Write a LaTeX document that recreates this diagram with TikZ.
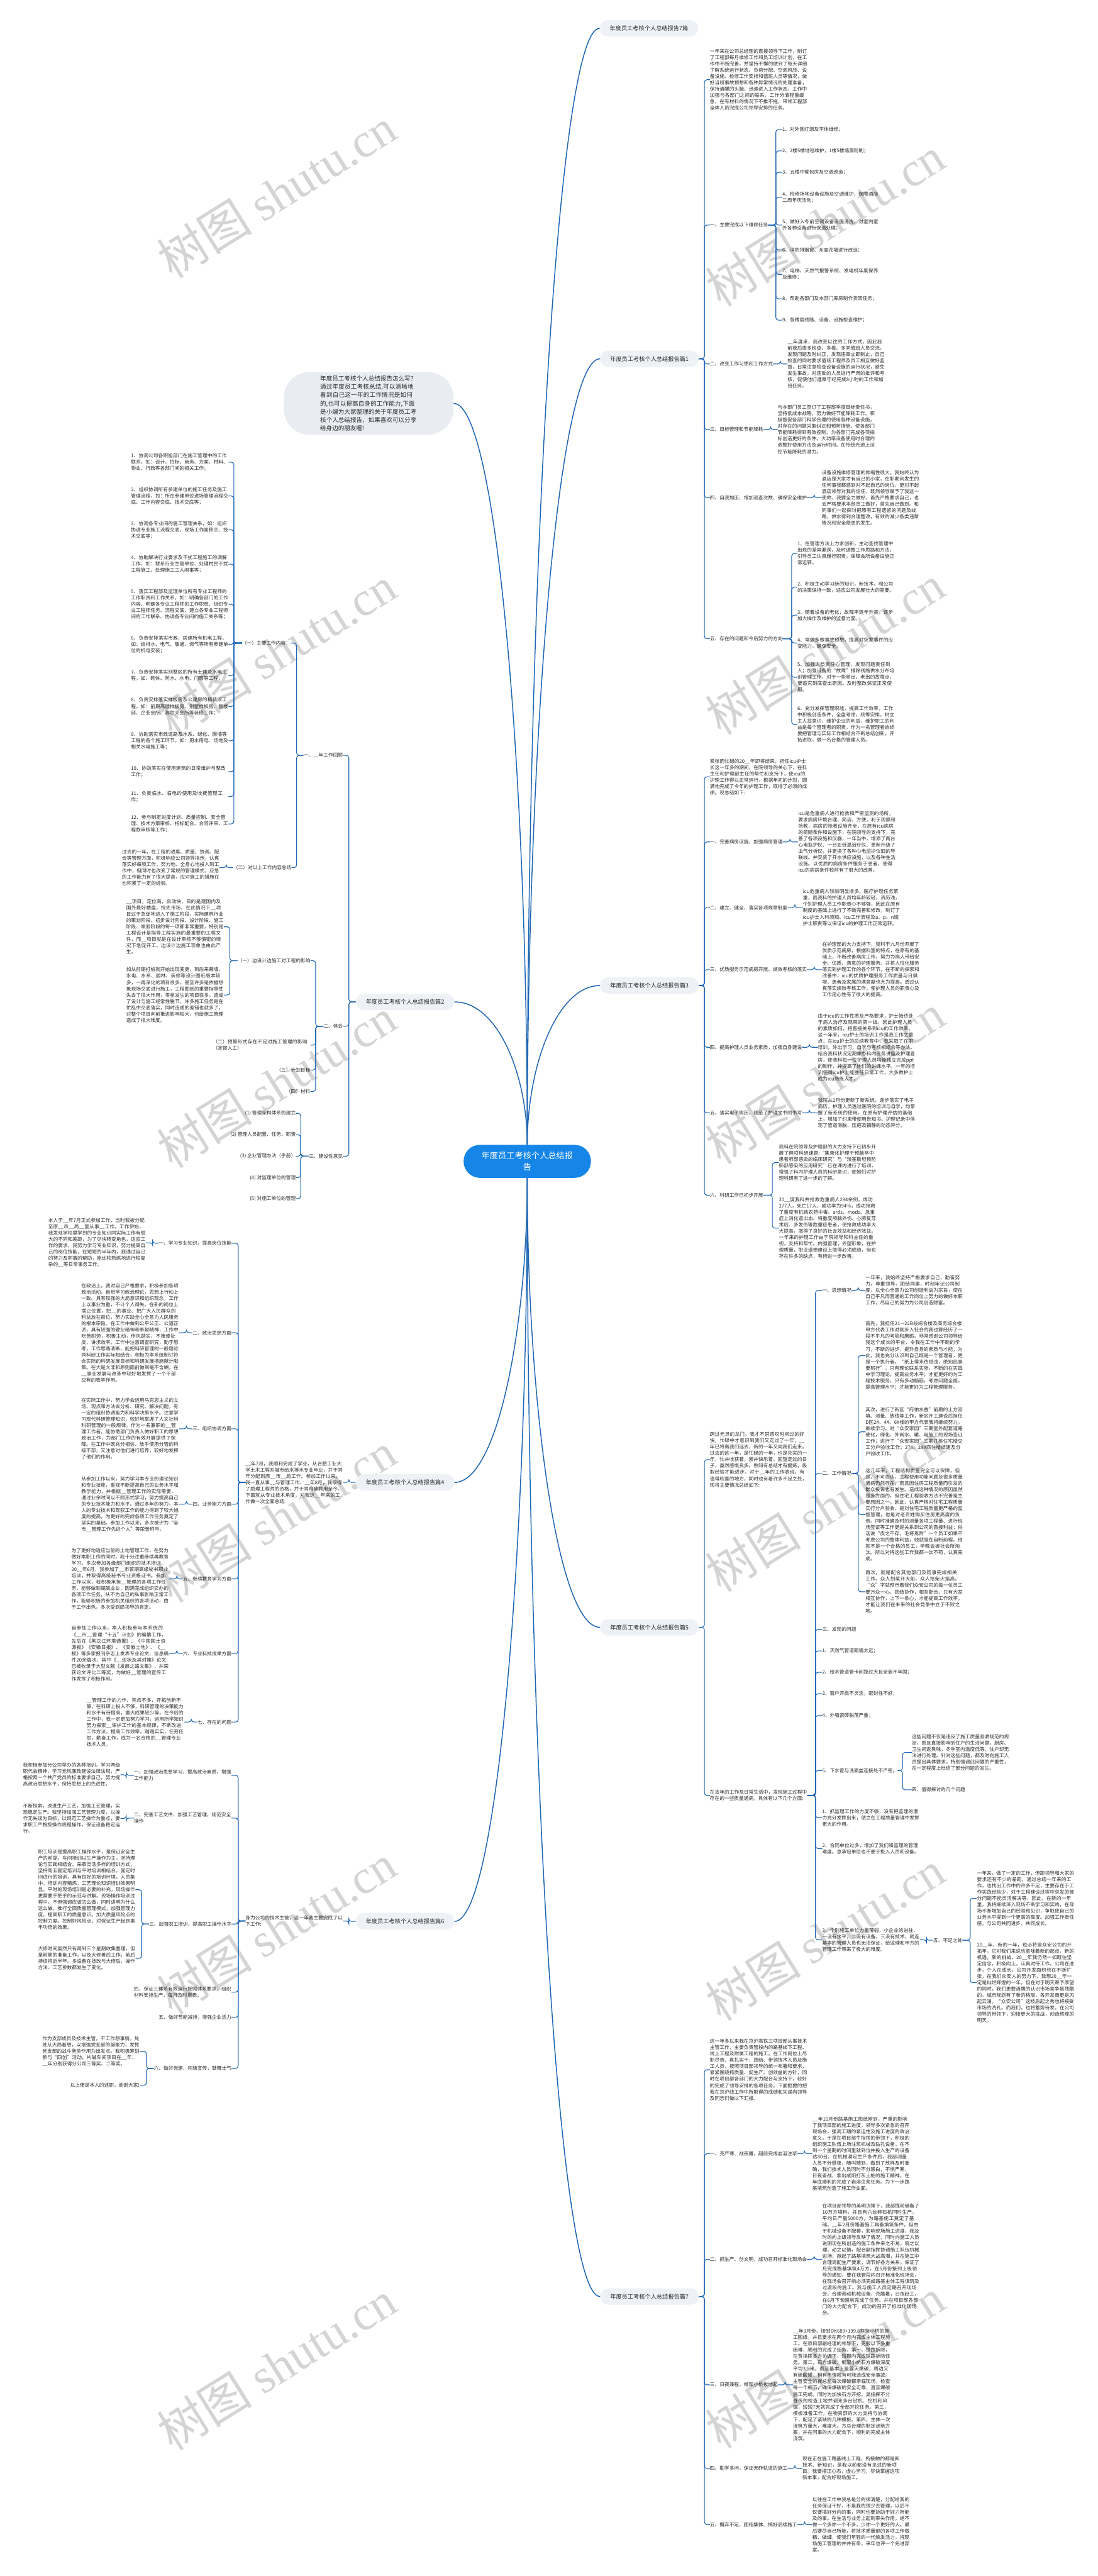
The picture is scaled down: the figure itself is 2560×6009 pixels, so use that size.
\documentclass[tikz,border=0pt]{standalone}
\usepackage{fontspec}
\setmainfont{Noto Sans CJK SC}
\newfontfamily\wmfont{Liberation Serif}
\XeTeXlinebreaklocale "zh"
\XeTeXlinebreakskip=0pt plus 1pt
\definecolor{lnc}{RGB}{31,103,181}
\definecolor{rootc}{RGB}{21,133,232}
\definecolor{labc}{RGB}{238,241,245}
\definecolor{introc}{RGB}{233,237,242}
\definecolor{txtc}{RGB}{40,40,40}
\newcommand\rc[3]{\draw[ln] (#1.east) -- ++(#3,0) |- (#2.west);}
\newcommand\lc[3]{\draw[ln] (#1.west) -- ++(-#3,0) |- (#2.east);}
\tikzset{
  ln/.style={draw=lnc, line width=1.6pt, rounded corners=6pt},
  mainln/.style={draw=lnc, line width=2.2pt},
  lab/.style={fill=labc, rounded corners=19pt, minimum height=38pt, minimum width=230pt, inner xsep=10pt, font=\fontsize{13.5}{16}\selectfont, text=txtc},
  tx/.style={inner sep=0pt, align=left, text width=227pt, font=\fontsize{11.3}{14.7}\selectfont, text=txtc},
  sl/.style={inner sep=0pt, font=\fontsize{11.3}{14.7}\selectfont, text=txtc},
  rootn/.style={fill=rootc, text=white, rounded corners=38pt, minimum width=297pt, minimum height=77pt, align=center, font=\fontsize{19.4}{26}\selectfont, inner sep=0pt},
  intro/.style={fill=introc, rounded corners=60pt, text width=226pt, inner xsep=85pt, inner ysep=8pt, align=left, font=\fontsize{14}{19.5}\selectfont, text=txtc},
  wm/.style={rotate=32, text=black!17, font=\fontsize{112}{112}\selectfont}
}
\begin{document}
\begin{tikzpicture}[x=1pt,y=-1pt]
\useasboundingbox (0,0) rectangle (2560,6009);
\fill[white] (0,0) rectangle (2560,6009);
% watermarks
\foreach \wx/\wy in {645/450,645/1520,645/2526,645/3540,645/4500,645/5518,1925/517,1925/1516,1925/2517,1925/3515,1925/4515,1925/5513}{
  \node[wm] (wm-\wx-\wy) at (\wx,\wy) {树图 {\wmfont shutu.cn}};
}
% root and top labels
\node[rootn] (root) at (1230,2709) {年度员工考核个人总结报\\告};
\node[intro] (intro) at (860,941) {年度员工考核个人总结报告怎么写？通过年度员工考核总结,可以清晰地看到自己这一年的工作情况是如何的,也可以提高自身的工作能力,下面是小编为大家整理的关于年度员工考核个人总结报告，如果喜欢可以分享给身边的朋友喔!};
\node[lab] (L0) at (1514,66) {年度员工考核个人总结报告7篇};
\node[lab] (L1) at (1515,837) {年度员工考核个人总结报告篇1};
\node[lab] (L3) at (1515,2299) {年度员工考核个人总结报告篇3};
\node[lab] (L5) at (1515,3796) {年度员工考核个人总结报告篇5};
\node[lab] (L7) at (1515,5357) {年度员工考核个人总结报告篇7};
\node[lab] (L2) at (945,2337) {年度员工考核个人总结报告篇2};
\node[lab] (L4) at (945,3458) {年度员工考核个人总结报告篇4};
\node[lab] (L6) at (945,4482) {年度员工考核个人总结报告篇6};

\draw[mainln] (root.north) .. controls (1230,1368) and (1300,66) .. (L0.west);
\draw[mainln] (root.north) .. controls (1230,1753) and (1300,837) .. (L1.west);
\draw[mainln] (root.north) .. controls (1230,2485) and (1300,2299) .. (L3.west);
\draw[mainln] (root.north) .. controls (1230,1805) and (1159,941) .. (intro.east);
\draw[mainln] (root.north) .. controls (1230,2504) and (1160,2337) .. (L2.east);
\draw[mainln] (root.south) .. controls (1230,3100) and (1160,3458) .. (L4.east);
\draw[mainln] (root.south) .. controls (1230,3270) and (1300,3796) .. (L5.west);
\draw[mainln] (root.south) .. controls (1230,3615) and (1160,4482) .. (L6.east);
\draw[mainln] (root.south) .. controls (1230,4050) and (1300,5357) .. (L7.west);

% ================= 篇1 =================
\node[tx,anchor=west] (a1) at (1656,186) {一年来在公司总经理的直接领导下工作，制订了工程部每月维修工作和员工培训计划，在工作中不断完善，并坚持不懈的做到了每天详细了解系统运行状态、负荷分配、空调风压、设备设施、检修工作安排和值班人员等情况，做好当班事故预想和各种异常情况的处理准备，保持清醒的头脑，迅速进入工作状态，工作中加强与各部门之间的联系，工作分清轻重缓急，在有材料的情况下不推不拖，带领工程部全体人员完成公司领导安排的任务。};
\node[sl,anchor=west] (a2) at (1656,525) {一、主要完成以下维修任务};
\node[sl,anchor=west] (a21) at (1825,302) {1、对外围灯源及字体维修；};
\node[sl,anchor=west] (a22) at (1825,352) {2、2楼5楼地毯维护，1楼5楼墙面粉刷；};
\node[sl,anchor=west] (a23) at (1825,402) {3、五楼中餐包房及空调改造；};
\node[tx,anchor=west] (a24) at (1825,460) {4、检修场地设备设施及空调维护，保障酒店二周年庆活动；};
\node[tx,anchor=west] (a25) at (1825,525) {5、做好入冬前空调设备设施清洗，对室内室外各种设备进行保温处理；};
\node[sl,anchor=west] (a26) at (1825,583) {6、消防排烟窗、东面花墙进行改造；};
\node[tx,anchor=west] (a27) at (1825,640) {7、电梯、天然气报警系统、发电机年度保养及维修；};
\node[sl,anchor=west] (a28) at (1825,697) {8、帮助各部门及本部门库房制作货架任务；};
\node[sl,anchor=west] (a29) at (1825,747) {9、各楼层线路、设备、设施检查维护；};
\node[sl,anchor=west] (a3) at (1656,849) {二、改变工作习惯和工作方式};
\node[tx,anchor=west] (a3t) at (1837,849) {\_\_年度来，我改变以往的工作方式，因此我前夜后夜多检查、多看、多同值班人员交流，发现问题及时纠正，发现违章立即制止，自己检查的同时要求值班工程师及员工相互做好监督，日常注意检查设备设施的运行状况，避免发生事故。对违反的人员进行严肃的批评和考核，促使他们遵章守纪完成8小时的工作和加班任务。};
\node[sl,anchor=west] (a4) at (1656,1002) {三、目标管理和节能降耗};
\node[tx,anchor=west] (a4t) at (1814,1002) {与本部门员工签订了工程部季度目标责任书，坚持低成本战略，努力做好节能降耗工作。积极督促各部门科学合理的使用各种设备设施，对存在的问题采取纠正和预防措施，使各部门节能降耗得到有效控制，为各部门完成各项指标创造更好的条件。大功率设备使用时合理的调整好使用方法及运行时间。在传统光源上深挖节能降耗的潜力。};
\node[sl,anchor=west] (a5) at (1656,1161) {四、自我加压、增加巡查次数、确保安全维护};
\node[tx,anchor=west] (a5t) at (1917,1161) {设备设施维修管理的伸缩性很大，我始终认为酒店是大家才有自己的小家，在职期间发生的任何事我都感到对不起自己的岗位，更对不起酒店领导对我的信任，既然领导赋予了我这一使命，我要全力做好，首先严格要求自己，也会严格要求本部员工做好，首先自己做到。和同事们一起探讨把原有工程遗留的问题及线路、供水得到合理整改，有效的减少各类违章情况和安全隐患的发生。};
\node[sl,anchor=west] (a6) at (1656,1490) {五、存在的问题和今后努力的方向};
\node[tx,anchor=west] (a61) at (1860,1291) {1、在管理方法上力求创新，主动查找管理中出现的差异漏洞，及时调整工作思路和方法，引导员工认真履行职责，保障会所设备设施正常运转。};
\node[tx,anchor=west] (a62) at (1860,1370) {2、积极主动学习新的知识，新技术，和公司的决策保持一致，适应公司发展壮大的需要。};
\node[tx,anchor=west] (a63) at (1860,1435) {3、随着设备的老化，故障率逐年升高，逐步加大操作及维护的监督力度。};
\node[tx,anchor=west] (a64) at (1860,1500) {4、常做多做事故预想，提高对突发事件的应变能力，确保安全。};
\node[tx,anchor=west] (a65) at (1860,1580) {5、加强人员责任心管理，发现问题责任到人；加强设备的“故障”排除线路供水分布培训管理工作，对于一些易出、老出的故障点，要追究到底查出原因。及时整改保证正常使用。};
\node[tx,anchor=west] (a66) at (1860,1690) {6、充分发挥管理职能，提高工作效率，工作中积极创造条件，全盘考虑，统筹安排，树立主人翁意识，维护企业的利益，维护职工的利益是每个管理者的职责，作为一名管理者始终要把管理与实际工作相结合不断总结创新，开拓进取，做一名合格的管理人员。};
\foreach \c in {a1,a2,a3,a4,a5,a6}{\rc{L1}{\c}{13}}
\foreach \c in {a21,a22,a23,a24,a25,a26,a27,a28,a29}{\rc{a2}{\c}{18}}
\rc{a3}{a3t}{17}
\rc{a4}{a4t}{17}
\rc{a5}{a5t}{17}
\foreach \c in {a61,a62,a63,a64,a65,a66}{\rc{a6}{\c}{21}}

% ================= 篇3 =================
\node[tx,anchor=west] (b0) at (1656,1812) {紧张而忙碌的20\_\_年即将结束，担任icu护士长这一年多的期间，在院领导的关心下，在科主任和护理部主任的帮忙和支持下，使icu的护理工作得以正常运行，根据年初的计划，圆满地完成了今年的护理工作，取得了必须的成绩。现总结如下:};
\node[sl,anchor=west] (b1) at (1656,1964) {一、完善病房设施，加强病房管理};
\node[tx,anchor=west] (b1t) at (1862,1964) {icu是危重病人进行抢救和严密监测的场所，要求病房环境合理、简洁、方便，利于观察和抢救，病房的抢救设施齐全，在原有icu病房的简陋条件和设施下，在院领导的支持下，完善了各项设施和仪器，一年当中，增添了两台心电监护仪、一台亚低温治疗仪、更新升级了血气分析仪，并更换了各种心电监护仪旧的导联线。并安装了开水供应设施，以及各种生活设施。以优质的病房条件服务于患者，使得icu的病房条件较前有了很大的改善。};
\node[sl,anchor=west] (b2) at (1656,2117) {二、建立、健全、落实各项规章制度};
\node[tx,anchor=west] (b2t) at (1873,2117) {icu危重病人较前明显增多，医疗护理任务繁重，而我科的护理人员均年龄较轻，资历浅，个别护理人员工作职责心不够强，因此在原有制度的基础上进行了不断完善和修改，制订了icu护士入科须知、icu工作流程及a、p、n班护士职责等以保证icu的护理工作正常运转。};
\node[sl,anchor=west] (b3) at (1656,2262) {三、优质服务示范病房开展、绩效考核的落实};
\node[tx,anchor=west] (b3t) at (1918,2262) {在护理部的大力支持下，我科于九月份开展了优质示范病房，根据科室的特点，在原有的基础上，不断改善病房工作，努力为病人带给安全、优质、满意的护理服务。并将人性化服务落实到护理工作的各个环节，在不断的探索和改善中，icu的优质护理服务工作质量与日俱增，患者及家属的满意度也大为提高。透过认真落实绩效考核工作，使护理人员的职责心及工作用心性有了很大的提高。};
\node[sl,anchor=west] (b4) at (1656,2443) {四、提高护理人员业务素质，加强自身建设};
\node[tx,anchor=west] (b4t) at (1908,2443) {由于icu的工作性质及严格要求，护士始终处于病人治疗及观察的第一线。因此护理人员的素质如何，将直接关系到icu的工作效率。这一年来，icu护士的培训工作是我工作之重点，在icu护士的后续教育中，我采取了在职培训，外出学习，自学与考核相结合等办法。结合我科状况定期举办科内业务讲座及护理查房，使我科每一位护理人员均能独立完成ppt的制作，并提高了她们的讲课水平。一年的培训使得icu护士能胜任日常工作，大多数护士成为icu熟练人才。};
\node[sl,anchor=west] (b5) at (1656,2596) {五、落实电子病历、规范了护理文书的书写};
\node[tx,anchor=west] (b5t) at (1908,2596) {我院从2月份更新了新系统，逐步落实了电子病历。护理人员透过医院的培训与自学，均掌握了新系统的使用。在原有护理评估的基础上，增加了约束带使用告知书、护理记录中体现了管道滑脱、压疮及镇静的动态评分。};
\node[sl,anchor=west] (b6) at (1656,2788) {六、科研工作已初步开展};
\node[tx,anchor=west] (b61) at (1817,2712) {我科在院领导及护理部的大力支持下已初步开展了两项科研课题:“集束化护理干预脑卒中患者肺部感染的临床研究”与“羧基斯坦预防肺部感染的应用研究”已在课内进行了培训，增强了科内护理人员的科研意识，使她们对护理科研有了进一步的了解。};
\node[tx,anchor=west] (b62) at (1817,2865) {20\_\_度我科共抢救危重病人294余例，成功277人，死亡17人，成功率为94\%，成功抢救了重度有机磷农药中毒、ards、mods、急重症上消化道出血、特重度颅脑外伤、心肺复苏术后、多发伤等危重症患者，使抢救成功率大大提高，取得了良好的社会效益和经济效益。一年来的护理工作由于院领导和科主任的重视，支持和帮忙。内强管理，外塑形象，在护理质量，职业道德建设上取得必须成绩，但也存在许多的缺点，有待进一步改善。};
\foreach \c in {b0,b1,b2,b3,b4,b5,b6}{\rc{L3}{\c}{13}}
\rc{b1}{b1t}{17}
\rc{b2}{b2t}{17}
\rc{b3}{b3t}{17}
\rc{b4}{b4t}{17}
\rc{b5}{b5t}{17}
\rc{b6}{b61}{21}
\rc{b6}{b62}{21}

% ================= 篇5 =================
\node[tx,anchor=west] (c0) at (1656,3405) {跨过元旦的龙门，我才不禁感叹时间过的好快，忙碌中才意识到我们又走过了一年，\_\_年已将离我们远去，新的一年又向我们走来。过去的这一年，是忙碌的一年，也是充实的一年，忙并收获着，累并快乐着。回望走过的日子，虽然感慨良多。熟知有总结才有提炼，吸取经验才能进步。对于\_\_年的工作表现，有值得欣喜的地方，同时也有着许多不足之处，现将主要情况总结如下:};
\node[tx,anchor=west] (c1) at (1656,4188) {在去年的工作及日常生活中，发现施工过程中存在的一些质量通病，具体有以下几个方面:};
\node[sl,anchor=west] (c11) at (1918,3010) {一、思想情况};
\node[tx,anchor=west] (c11t) at (2019,3010) {一年来，我始终坚持严格要求自己，勤奋努力，尊重领导，团结同事，时刻牢记公司制度，以全心全意为公司创造利益为宗旨，使在自己平凡而普通的工作岗位上努力的做好本职工作，尽自己的努力为公司创造财富。};
\node[sl,anchor=west] (c12) at (1918,3437) {二、工作情况};
\node[tx,anchor=west] (c121) at (2019,3162) {首先，我担任21—22B段综合楼及商务综合楼甲方代表工作对刚步入社会的我也算经历了一段不平凡的考验和磨砺。非常感谢公司领导给我这个成长的平台，令我在工作中不断的学习，不断的进步，提升自身的素质与才能，为此，我也充分认识到自己既是一个管理者，更是一个执行者。“纸上得来终觉浅，绝知此事要躬行”，只有理论联系实际，不断的在实践中学习理论，提高业务水平；才能更好的为工程技术服务，只有多动脑筋，考虑问题全面，提高管理水平；才能更好为工程管理服务。};
\node[tx,anchor=west] (c122) at (2019,3340) {其次，进行了新区“府佑水香”前期的土方回填、测量、放线等工作，新区开工建设后担任D区2\#、4\#、6\#楼的甲方代表我将继续努力，继续学习。对“众安家园”三期室外配套道路硬化，绿化、外网水、暖、电施工的现场签证工作；进行了“众安家园”三期几栋住宅楼交工分户验收工作；27\#、29\#商住楼续建及分户验收工作。};
\node[tx,anchor=west] (c123) at (2019,3533) {这几年来，工程结构质量完全可以保障，但是，不可否认，工程使用功能问题及很多质量通病仍然存在，而且因住房工程质量而引发的群众投诉也有发生。造成这种情况的原因虽然是多方面的，但住宅工程验收方法不完善是主要原因之一。因此，认真严格对住宅工程质量实行分户验收，是对住宅工程质量更严格的监督管理，也是对老百姓购买住房更高度的负责。同时准确及时的测量各项工程量、进行现场签证等工作更是关系到公司的直接利益；俗话说“皮之不存，毛将焉附”一个员工如果不考虑公司的整体利益，他就是在自断前程。他就不是一个合格的员工，早晚会被社会所淘汰。所以对待这些工作我都一丝不苟，认真完成。};
\node[tx,anchor=west] (c124) at (2019,3713) {再次，就是配合其他部门及同事完成相关工作。众人划桨开大船，众人拾柴火焰高。“众”字就预示着我们众安公司的每一位员工要万众一心、团结协作，相互配合，只有大家相互协作，上下一条心，才能提高工作效率，才能让我们在未来的社会竞争中立于不败之地。};
\node[sl,anchor=west] (c13) at (1918,3801) {三、发现的问题};
\node[sl,anchor=west] (c14) at (1918,3851) {1、天然气管道距墙太远；};
\node[sl,anchor=west] (c15) at (1918,3901) {2、给水管道管卡间距过大且安装不牢固；};
\node[sl,anchor=west] (c16) at (1918,3951) {3、窗户开启不灵活，密封性不好；};
\node[sl,anchor=west] (c17) at (1918,4002) {4、外墙瓷砖脱落严重；};
\node[sl,anchor=west] (c18) at (1918,4130) {5、下水管与洗面盆连接处不严密。};
\node[tx,anchor=west] (c181) at (2127,4088) {这些问题不仅是违反了施工质量验收规范的规定，而且直接影响到住户的生活问题，厨房、卫生间返臭味，冬季室内温度低等，住户却无法进行处理。针对这些问题，都及时向施工人员提出具体要求，特别强调此问题的严重性，在一定程度上杜绝了部分问题的发生。};
\node[sl,anchor=west] (c182) at (2127,4175) {四、值得探讨的几个问题};
\node[tx,anchor=west] (c19) at (1918,4240) {1、抓监理工作的力度不够，没有把监理的潜力充分发挥出来，使之在工程质量管理中发挥更大的作用。};
\node[tx,anchor=west] (c1a) at (1918,4312) {2、合同单位过多，增加了我们和监理的管理难度。总承包单位也不便于投入人员和设备。};
\node[tx,anchor=west] (c1b) at (1918,4525) {3、个别施工单位力量薄弱，小企业的进驻，一没有水平，二没有设备，三没有技术，就连基本的管理人员也无法保证，给监理和甲方的管理工作带来了极大的难度。};
\node[sl,anchor=west] (c1bb) at (2177,4526) {五、不足之处};
\node[tx,anchor=west] (c1b1) at (2279,4428) {一年来，做了一定的工作，但距领导和大家的要求还有不少的差距，通过总结一年来的工作，也找出工作中的许多不足，主要存在于工作实践经验少，对于工程建设过程中突发的部分问题不能灵活解决等，因此，在新的一年里，我将继续深入现场不断学习和实践，在现场不断增加自己的经验和见识，争取使自己的业务水平提到一个更高的高度。加强工作责任感，与公司共同进步、共同成长。};
\node[tx,anchor=west] (c1b2) at (2279,4625) {20\_\_年，新的一年，也必将是众安公司的开拓年，它对我们来说也意味着新的起点，新的机遇，新的挑战，20\_\_年我仍然一如既往坚定信念，积极向上，认真对待工作。公司在进步，个人在成长，公司开发面积也在不断扩张，在我们众安人的努力下，我想20\_\_年一定是灿烂辉煌的一年，但在对于明天寄予厚望的同时，我们更要清醒的认识市场竞争是残酷的。城市规划有了新的格局，各开发商更是风起云涌。“众安公司”这枝后起之秀也将接受市场的洗礼。而我们，也将蓄势待发。在公司领导的带领下，迎接更大的挑战，创造辉煌的明天。};
\rc{L5}{c0}{13}
\rc{L5}{c1}{13}
\foreach \c in {c11,c12,c13,c14,c15,c16,c17,c18,c19,c1a,c1b}{\rc{c1}{\c}{19}}
\rc{c11}{c11t}{16}
\foreach \c in {c121,c122,c123,c124}{\rc{c12}{\c}{16}}
\rc{c18}{c181}{11}
\rc{c18}{c182}{11}
\rc{c1b}{c1bb}{16}
\rc{c1bb}{c1b1}{18}
\rc{c1bb}{c1b2}{18}

% ================= 篇7 =================
\node[tx,anchor=west] (d0) at (1656,4828) {这一年多以来我在京沪高铁三项目部从事技术主管工作，主要负责管段内的路基线下工程、线上工程及附属工程的施工。在工作岗位上尽职尽责、真扎实干，团结、带领技术人员及施工人员，按照项目部领导的统一布署和要求，紧紧围绕抓质量、促生产、创效益的方针，同时在项目部各部门的大力配合与支持下，较好的完成了领导安排的各项任务。下面扼要的把我在京沪线工作中所取得的成绩和失误向领导及同志们做以下汇报。};
\node[sl,anchor=west] (d1) at (1656,5024) {一、克严寒、战夜魇，超前完成岩溶注浆};
\node[tx,anchor=west] (d1t) at (1895,5024) {\_\_年10月份路基施工图纸刚到，严重的影响了我项目部的施工进度，领导多次紧急的召开现场会，强调工期的紧迫性及施工进度的政治意义。于是在项目部牛指挥的带领下，积极的组织施工队伍上场注浆机械及钻孔设备，在不到一个星期的时间里就到位并投入生产的设备达80台。在机械满足生产条件后，我部测量人员不分昼夜，随叫随到，做到了放样及时准确，我们技术人员同时不分黑白，不惧严寒，日夜奋战，拿出咸阳打灰土桩的施工精神，在年底顺利的完成了岩溶注浆任务。为下一步路基填筑创造了施工作业面。};
\node[sl,anchor=west] (d2) at (1656,5270) {二、抓生产、创文明，成功召开标准化现场会};
\node[tx,anchor=west] (d2t) at (1918,5270) {在项目部领导的英明决策下，我部提前储备了10万方填料，并且有六台碎石机同时生产，平均日产量5000方，为路基施工奠定了基础。\_\_年2月份路基施工具备填筑条件，但由于机械设备不配套，影响现场施工进度，我及时的向上级领导反映了情况，同时向施工人员说明现在所创造的施工条件来之不易，晓之以理，动之以情，配合副指挥协调施工队伍机械进场，掀起了路基填筑大战高潮，并在施工中合理调配生产要素，调节好各方关系，保证了月完成路基填筑4万方。在5月份接到上级领导的通知，要在我管段内召开标准化现场会，在现场会召开前必须完成路基主体工程填筑及过渡段的施工。我与施工人员定期召开现场会，合理调动机械设备，克酷暑，日夜赶工，在6月下旬超前完成了任务。并在项目部各部门的大力配合下，成功的召开了标准化现场会。};
\node[sl,anchor=west] (d3) at (1656,5563) {三、日夜兼程，框架小桥拔地起};
\node[tx,anchor=west] (d3t) at (1850,5563) {\_\_年3月份，接到DK689+199.8框架小桥的施工图纸，并且要求在两个月内完成主体工程施工。在项目部副经理的领导下，克服以下多重困难，顺利的完成了任务。第一，铁路拆除，在贾指挥多方协调下，短期内完成铁路拆除任务。第二，石方爆破，框架小桥石方爆破深度平均3.5米，而且基本上是露天爆破，周边又有硫酸罐，稍有不慎就有可能造成安全事故。主管安全的崔总监每次爆破都亲临现场，检查每一个细节，确保爆破的安全可靠，直至爆破施工完成。同时为加快石方开挖，吴指挥不分昼夜的检查工地并调来多台钻机、挖机和风镐，短短7天就完成了全部开挖任务。第三，模板准备工作，在物资部的大力支持与协调下，配足了紧缺的几种模板。第四，主体一次浇筑方量大，难度大。方总合理的制定浇筑方案，并在同事的大力配合下，顺利的完成主体浇筑。};
\node[sl,anchor=west] (d4) at (1656,5758) {四、勤学多问，保证无砟轨道的施工};
\node[tx,anchor=west] (d4t) at (1872,5758) {现在正在施工路基线上工程，所接触的都是新技术、新知识，是我以前都没有见过的新项目。我要摆正心态，虚心学习，尽快掌握这项新本事，配合好现场施工。};
\node[sl,anchor=west] (d5) at (1656,5889) {五、摒弃不足、团结集体、搞好后续施工};
\node[tx,anchor=west] (d5t) at (1895,5889) {以往在工作中我总是分的很清楚，分配给我的任务保证干好，不是我的很少去管理，以后不仅要搞好分内的事，同时也要协助干好力所能及的事。在生活与业务上起到带头作用，绝不做一个多你一个不多，少你一个更好的人。最后要尽自己所能，将技术质量部的各项工作做精、做细，使我们年轻的一代焕发活力，将现场施工管理的井井有条，来年也评一个先进部室。};
\foreach \c in {d0,d1,d2,d3,d4,d5}{\rc{L7}{\c}{13}}
\rc{d1}{d1t}{17}
\rc{d2}{d2t}{17}
\rc{d3}{d3t}{17}
\rc{d4}{d4t}{17}
\rc{d5}{d5t}{17}

% ================= 篇2 =================
\node[sl,anchor=east] (e1) at (800,1762) {一、\_\_年工作回顾};
\node[sl,anchor=east] (e1a) at (678,1500) {（一）主要工作内容：};
\node[tx,anchor=east] (e1a1) at (533,1078) {1、协调公司各职能部门在施工管理中的工作联系，如：设计、招标、商务、方案、材料、物业、行政等各部门间的相关工作；};
\node[tx,anchor=east] (e1a2) at (533,1157) {2、组织协调所有参建单位的施工任务及施工管理流程，如：所在参建单位进场管理流程交底、工作内容交底、技术交底等；};
\node[tx,anchor=east] (e1a3) at (533,1236) {3、协调各专业间的施工管理关系，如：组织协调专业施工流程交底、现场工作面移交、技术交底等；};
\node[tx,anchor=east] (e1a4) at (533,1316) {4、协助解决行业要求及干扰工程施工的调解工作，如：联系行业主管单位、处理村民干扰工程施工、处理施工工人闹事等；};
\node[tx,anchor=east] (e1a5) at (533,1410) {5、落实工程部及监理单位所有专业工程师的工作职责和工作关系，如：明确各部门的工作内容、明确各专业工程师的工作职责、组织专业工程师任务、流程交底、建立各专业工程师间的工作联系、协调各专业间的施工关系等；};
\node[tx,anchor=east] (e1a6) at (533,1503) {6、负责安排落实市政、房建所有机电工程，如：给排水、电气、暖通、燃气等所有参建单位的机电安装；};
\node[tx,anchor=east] (e1a7) at (533,1576) {7、负责安排落实别墅区的所有土建及水电工程，如：砌体、防水、水电、门窗等工程；};
\node[tx,anchor=east] (e1a8) at (533,1648) {8、负责安排落实样板房及公建房的精装修工程，如：前期高层样板房、别墅样板房、售楼部、企业会所、高尔夫会所等装修工作；};
\node[tx,anchor=east] (e1a9) at (533,1728) {9、协助落实市政道路及水系、绿化、围墙等工程的各个施工环节，如：用水用电、场地及相关水电施工等；};
\node[tx,anchor=east] (e1a10) at (533,1800) {10、协助落实在使用建筑的日常维护与整改工作；};
\node[tx,anchor=east] (e1a11) at (533,1858) {11、负责临水、临电的使用及收费管理工作；};
\node[tx,anchor=east] (e1a12) at (533,1922) {12、参与制定进度计划、质量控制、安全管理、技术方案审核、招标配合、合同评审、工程款审核等工作；};
\node[sl,anchor=east] (e1b) at (680,2024) {（二）对以上工作内容总结};
\node[tx,anchor=east] (e1bt) at (512,2024) {过去的一年，在工程的进度、质量、协调、配合等管理方面，积极响应公司领导指示，认真落实好每项工作，努力地、全身心地投入到工作中，但同时也改变了常规的管理模式，应急的工作能力有了很大提高，应对施工的措施在也积累了一定的经验。};
\node[sl,anchor=east] (e2) at (800,2394) {二、体会};
\node[sl,anchor=east] (e2a) at (724,2241) {（一）边设计边施工对工程的影响};
\node[tx,anchor=east] (e2a1) at (522,2162) {\_\_项目，定位高，启动快，目的是建国内及国外最好楼盘，抢先市场，在此情况下\_\_项目过于急促地进入了施工阶段，实际建筑行业的策划阶段、初步设计阶段、设计阶段、施工阶段、竣验阶段的每一项都非常重要，特别是工程设计是指导工程实施的最重要的工程文件，而\_\_项目就是在设计审核不够慎密的情况下急促开工，边设计边施工现象也由此产生。};
\node[tx,anchor=east] (e2a2) at (522,2321) {如从前期打桩就开始出现变更，到后来幕墙、水电、水系、园林、装修等设计图纸版本较多，一再深化的项目很多，甚至许多是依据想象现场交底进行施工，工程图纸的重要指导性失去了很大作用，零星发生的项目很多，造成了设计与施工经常性脱节，许多施工任务是在忙乱中交底落实，同时造成的差错也就多了，对整个项目向前推进影响较大，也给施工管理造成了很大难度。};
\node[tx,anchor=east] (e2b) at (724,2438) {（二）预算形式存在不足对施工管理的影响（定额人工）};
\node[sl,anchor=east] (e2c) at (724,2496) {（三）计划目标};
\node[sl,anchor=east] (e2d) at (724,2546) {（四）材料};
\node[sl,anchor=east] (e3) at (800,2697) {三、建设性意见};
\node[sl,anchor=east] (e31) at (690,2597) {(1) 管理架构体系的建立};
\node[sl,anchor=east] (e32) at (690,2647) {(2) 管理人员配置、任务、职责};
\node[sl,anchor=east] (e33) at (690,2697) {(3) 企业管理办法（手册）};
\node[sl,anchor=east] (e34) at (690,2747) {(4) 对监理单位的管理};
\node[sl,anchor=east] (e35) at (690,2796) {(5) 对施工单位的管理};
\foreach \c in {e1,e2,e3}{\lc{L2}{\c}{16}}
\lc{e1}{e1a}{16}
\lc{e1}{e1b}{16}
\foreach \c in {e1a1,e1a2,e1a3,e1a4,e1a5,e1a6,e1a7,e1a8,e1a9,e1a10,e1a11,e1a12}{\lc{e1a}{\c}{19}}
\lc{e1b}{e1bt}{16}
\foreach \c in {e2a,e2b,e2c,e2d}{\lc{e2}{\c}{18}}
\lc{e2a}{e2a1}{18}
\lc{e2a}{e2a2}{18}
\foreach \c in {e31,e32,e33,e34,e35}{\lc{e3}{\c}{19}}

% ================= 篇4 =================
\node[tx,anchor=east] (f0) at (800,3458) {\_\_年7月，我顺利完成了学业，从合肥工业大学土木工程系城市给水排水专业毕业，并于同年分配到原\_\_市\_\_局工作。参加工作以来，我一直从事\_\_与管理工作，\_\_年8月，我取得了助理工程师的资格，并于同月被聘用至今。下面就从专业技术角度，对我这\_\_年来的工作做一次全面总结:};
\node[sl,anchor=east] (f1) at (540,2900) {一、学习专业知识，提高岗位技能};
\node[tx,anchor=east] (f1t) at (340,2899) {本人于\_\_年7月正式参加工作，当时我被分配至原\_\_市\_\_局\_\_室从事\_\_工作。工作伊始，我发现学校里学到的专业知识同实际工作有很大的不同和差距，为了尽快转变角色，适应工作的要求，我努力学习专业知识，努力提高自己的岗位技能，在短短的半年内，我通过自己的努力及同事的帮助，能比较熟练地进行较复杂的\_\_等日常事务工作。};
\node[sl,anchor=east] (f2) at (540,3109) {二、政治思想方面};
\node[tx,anchor=east] (f2t) at (417,3109) {在政治上，我对自己严格要求，积极参加各项政治活动，自觉学习政治理论，思想上行动上一致。具有较强的大局意识和组织观念，工作上以事业为重，不计个人得失。在新的岗位上摆正位置，把\_\_的事业、把广大人民群众的利益放在首位，努力实践全心全意为人民服务的根本宗旨。在工作中做到公平公正、公道正派，具有较强的敬业精神和奉献精神，工作中吃苦耐劳，积极主动，作风踏实，不推诿扯皮，讲求效率。工作中注意调查研究，勤于思考，工作思路清晰，能把科研管理的一般理论同科研工作实际相结合，积极为本系统制订符合实际的科研发展目标和科研发展措施献计献策。在大是大非和原则面前做到毫不含糊，在\_\_事业发展与改革中较好地发挥了一个干部应有的表率作用。};
\node[sl,anchor=east] (f3) at (540,3333) {三、组织协调方面};
\node[tx,anchor=east] (f3t) at (417,3333) {在实际工作中，努力学会运用马克思主义的立场、观点和方法去分析、研究、解决问题，有一定的组织协调能力和科学决策水平。注意学习现代科研管理知识，较好地掌握了人文社科科研管理的一般规律。作为一名兼职的\_\_管理工作者，能协助部门负责人做好职工的思想政治工作，为部门工作的有效开展提供了保障。在工作中既充分相信、放手使用分管的科级干部，又注意对他们进行培养，较好地发挥了他们的作用。};
\node[sl,anchor=east] (f4) at (540,3509) {四、业务能力方面};
\node[tx,anchor=east] (f4t) at (417,3509) {从参加工作以来，努力学习本专业的理论知识和专业技能，重视不断提高自己的业务水平和教学能力，并根据\_\_管理工作的实际需要，通过业余时间以不同形式学习，努力提高自己的专业技术能力和水平。通过多年的努力，本人的专业技术和驾驭工作的能力得到了较大幅度的提高，为更好的完成各项工作任务奠定了坚实的基础。参加工作以来，多次被评为“全市\_\_管理工作先进个人”等荣誉称号。};
\node[sl,anchor=east] (f5) at (540,3683) {五、继续教育学习方面};
\node[tx,anchor=east] (f5t) at (394,3683) {为了更好地适应当前的土地管理工作，在努力做好本职工作的同时，我十分注重继续再教育学习，多次参加各级部门组织的技术培训，20\_\_年6月，我参加了\_\_市首期高级秘书职业培训，并取得高级秘书专业资格证书。参加工作以来，我积极承担\_\_管理的各项工作任务，能够做到兢兢业业，圆满完成组织交办的各项工作任务，从不为自己的私事影响正常工作，能够积极的参加机关组织的各项活动，由于工作出色，多次受到局领导的肯定。};
\node[sl,anchor=east] (f6) at (540,3857) {六、专业科技成果方面};
\node[tx,anchor=east] (f6t) at (394,3857) {自参加工作以来，本人积极参与本系统的《\_\_市\_\_管理“十五”计划》的编纂工作，先后在《黑龙江环境通报》、《中国国土资源报》《安徽日报》、《安徽土地》、《\_\_报》等多家报刊杂志上发表专业论文、信息稿件20余篇次，其中《\_\_现状及其对策》论文已被收录于大型文献《发展之路文集》，并荣获论文评比二等奖，为做好\_\_管理的宣传工作发挥了积极作用。};
\node[sl,anchor=east] (f7) at (540,4017) {七、存在的问题};
\node[tx,anchor=east] (f7t) at (429,4017) {\_\_管理工作的力作、亮点不多，开拓创新不够，在科研上投入不够，科研管理的决策能力和水平有待提高，重大成果较少等。在今后的工作中，我一定更加努力学习，运用所学知识努力探索\_\_保护工作的基本规律，不断改进工作方法，提高工作效率，踏踏实实，任劳任怨，勤奋工作，成为一名合格的\_\_管理专业技术人员。};
\lc{L4}{f0}{16}
\foreach \c in {f1,f2,f3,f4,f5,f6,f7}{\lc{f0}{\c}{17}}
\lc{f1}{f1t}{14}
\lc{f2}{f2t}{14}
\lc{f3}{f3t}{14}
\lc{f4}{f4t}{14}
\lc{f5}{f5t}{14}
\lc{f6}{f6t}{14}
\lc{f7}{f7t}{14}

% ================= 篇6 =================
\node[tx,anchor=east] (g0) at (800,4481) {身为公司的技术主管，这一年我主要完成了以下工作:};
\node[tx,anchor=east] (g1) at (540,4141) {一、加强政治思想学习，提高政治素质，增强工作能力};
\node[tx,anchor=east] (g1t) at (281,4140) {我积极参加分公司举办的各种培训，学习两级职代会精神，学习党风廉政建设法律法规，严格按照一个共产党员的标准要求自己，努力提高政治思想水平，保持思想上的先进性。};
\node[tx,anchor=east] (g2) at (540,4241) {二、完善工艺文件，加强工艺管理，规范安全操作};
\node[tx,anchor=east] (g2t) at (281,4242) {不断探索，改进生产工艺。加强工艺管理，实现稳定生产。我坚持加强工艺管理力度，以操作无失误为目标，以规范工艺操作为重点，要求职工严格按操作规程操作，保证设备稳定运行。};
\node[sl,anchor=east] (g3) at (540,4488) {三、加强职工培训，提高职工操作水平};
\node[tx,anchor=east] (g31) at (316,4408) {职工培训是提高职工操作水平，是保证安全生产的前提。车间培训以生产操作为主，坚持理论与实践相结合。采取灵活多样的培训方式，坚持周五固定培训与平时培训相结合。固定时间进行的培训，具有良好的培训环境，人员集中，培训内容精炼，工艺理论知识培训效果明显。平时的现场培训是必要的补充，现场操作更需要手把手的示范与讲解。现场操作培训过程中，不但强调应该怎么做，同时讲明为什么这么做。推行全面质量管理模式，加强管理力度，提高职工的质量意识。加大质量风险点的控制力度。控制好风险点，对保证生产起到事半功倍的效果。};
\node[tx,anchor=east] (g32) at (316,4568) {大修时间虽然只有两到三个星期收集整理，但是前期的准备工作，以及大修善后工作，前后持续将近半年。多设备在技改与大修后，操作方法、工艺参数都发生了变化。};
\node[tx,anchor=east] (g4) at (540,4647) {四、保证三体系有效运行按照体系要求，组织材料安排生产，每月及时报表。};
\node[sl,anchor=east] (g5) at (540,4706) {五、做好节能减排，增强企业活力};
\node[sl,anchor=east] (g6) at (540,4825) {六、做好党建、积极宣传，鼓舞士气};
\node[tx,anchor=east] (g61) at (326,4785) {作为支部成员及技术主管，干工作想事情，处处从大局着想，以增强党支部的凝聚力，发挥党支部的战斗堡垒作用为出发点。我积极筹划参与“四创”活动，片碱车间项目在\_\_年、\_\_年分别获得分公司三等奖、二等奖。};
\node[sl,anchor=east] (g62) at (326,4864) {以上便是本人的述职，谢谢大家!};
\lc{L6}{g0}{16}
\foreach \c in {g1,g2,g3,g4,g5,g6}{\lc{g0}{\c}{17}}
\lc{g1}{g1t}{18}
\lc{g2}{g2t}{18}
\lc{g3}{g31}{17}
\lc{g3}{g32}{17}
\lc{g6}{g61}{17}
\lc{g6}{g62}{17}
\end{tikzpicture}
\end{document}
